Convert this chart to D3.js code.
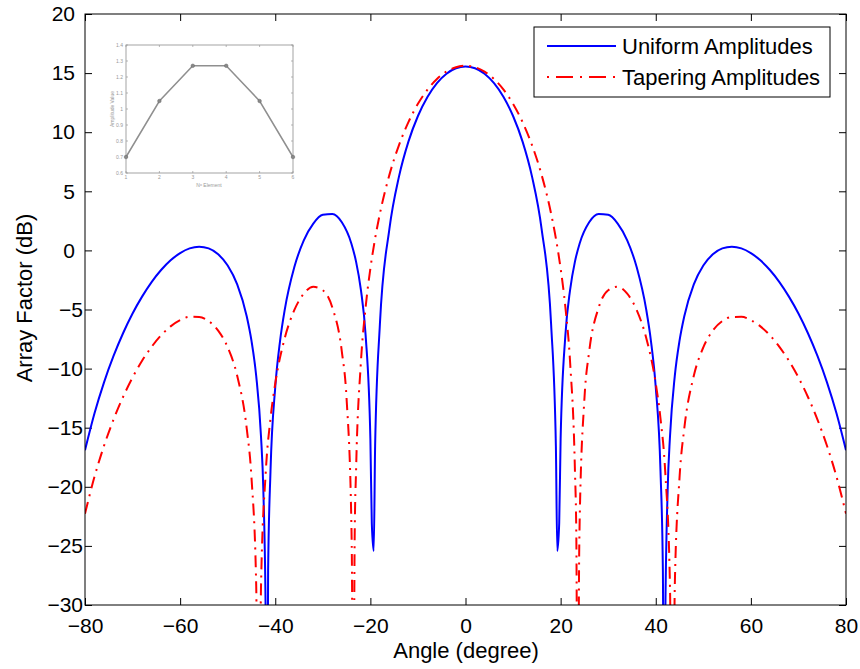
<!DOCTYPE html>
<html>
<head>
<meta charset="utf-8">
<script src="https://cdn.jsdelivr.net/npm/d3@7"></script>
<style>
body{margin:0;background:#fff;}
svg{display:block;}
text{font-family:"Liberation Sans",Arial,Helvetica,sans-serif;}
</style>
</head>
<body>
<svg id="chart" width="860" height="669"></svg>
<script>
// ---------------- DATA ----------------
const uniformAngles = [-80,-78,-76,-74,-72,-70,-68,-66,-64,-62,-60,-58,-56,-54,-52,-50,-48,-46,-45,-44,-43,-42.5,-42,-41.8,-41.5,-41,-40,-39,-38,-36,-34,-32,-30,-28,-26,-24,-23,-22,-21,-20,-19.7,-19.3,-19,-18,-16,-14,-12,-10,-8,-6,-4,-2,
  0,2,4,6,8,10,12,14,16,18,19,19.3,19.7,20,21,22,23,24,26,28,30,32,34,36,38,39,40,41,41.5,41.8,42,42.5,43,44,45,46,48,50,52,54,56,58,60,62,64,66,68,70,72,74,76,78,80];
const uniformDB = [-16.91,-13.78,-11.16,-8.93,-7.01,-5.34,-3.91,-2.68,-1.66,-0.84,-0.23,0.17,0.31,0.17,-0.33,-1.28,-2.88,-5.57,-7.64,-10.64,-15.70,-20.33,-31.45,-56.70,-27.10,-18.68,-11.58,-7.69,-5.01,-1.43,0.85,2.27,3.01,3.08,2.38,0.59,-0.97,-3.31,-7.17,-15.93,-23.08,-25.43,-16.51,-6.25,1.82,6.22,9.20,11.37,12.98,14.15,14.95,15.41,
  15.56,15.41,14.95,14.15,12.98,11.37,9.20,6.22,1.82,-6.25,-16.51,-25.43,-23.08,-15.93,-7.17,-3.31,-0.97,0.59,2.38,3.08,3.01,2.27,0.85,-1.43,-5.01,-7.69,-11.58,-18.68,-27.10,-56.70,-31.45,-20.33,-15.70,-10.64,-7.64,-5.57,-2.88,-1.28,-0.33,0.17,0.31,0.17,-0.23,-0.84,-1.66,-2.68,-3.91,-5.34,-7.01,-8.93,-11.16,-13.78,-16.91];

const taperAngles = [-80,-78,-76,-74,-72,-70,-68,-66,-64,-62,-60,-58,-56,-54,-52,-50,-48,-46,-45,-44,-43.5,-43,-42,-41,-40,-38,-36,-34,-32,-30,-28,-26,-25,-24,-23.9,-23.6,-23.3,-23,-22,-21,-20,-19,-18,-16,-14,-12,-10,-8,-6,-4,-2,
  0,2,4,6,8,10,12,14,16,18,19,20,21,22,23,23.3,23.6,23.9,24,25,26,28,30,32,34,36,38,40,41,42,43,43.5,44,45,46,48,50,52,54,56,58,60,62,64,66,68,70,72,74,76,78,80];
const taperDB = [-22.27,-19.14,-16.53,-14.31,-12.40,-10.75,-9.34,-8.16,-7.18,-6.43,-5.90,-5.62,-5.63,-5.98,-6.78,-8.20,-10.61,-15.06,-19.22,-28.43,-55.0,-28.57,-18.78,-14.23,-11.26,-7.41,-5.06,-3.66,-3.08,-3.37,-4.83,-8.56,-12.57,-22.97,-25.7,-46.0,-24.2,-18.49,-9.51,-4.81,-1.53,1.02,3.10,6.39,8.89,10.85,12.40,13.60,14.50,15.13,15.50,
  15.62,15.50,15.13,14.50,13.60,12.40,10.85,8.89,6.39,3.10,1.02,-1.53,-4.81,-9.51,-18.49,-24.2,-46.0,-25.7,-22.97,-12.57,-8.56,-4.83,-3.37,-3.08,-3.66,-5.06,-7.41,-11.26,-14.23,-18.78,-28.57,-55.0,-28.43,-19.22,-15.06,-10.61,-8.20,-6.78,-5.98,-5.63,-5.62,-5.90,-6.43,-7.18,-8.16,-9.34,-10.75,-12.40,-14.31,-16.53,-19.14,-22.27];

const xTicks = [-80,-60,-40,-20,0,20,40,60,80];
const yTicks = [-30,-25,-20,-15,-10,-5,0,5,10,15,20];
const seriesNames = ["Uniform Amplitudes","Tapering Amplitudes"];

const insetElements = [1,2,3,4,5,6];
const insetAmps = [0.7,1.05,1.27,1.27,1.05,0.7];
const insetYTicks = [0.6,0.7,0.8,0.9,1.0,1.1,1.2,1.3,1.4];
const insetXTicks = [1,2,3,4,5,6];

// ---------------- CHART ----------------
const svg = d3.select("#chart");
const L = 85, R = 846, T = 14, B = 605;
const x = d3.scaleLinear().domain([-80,80]).range([L,R]);
const y = d3.scaleLinear().domain([-30,20]).range([B,T]);

svg.append("rect").attr("width",860).attr("height",669).attr("fill","#fff");

svg.append("defs").append("clipPath").attr("id","plotclip")
  .append("rect").attr("x",L).attr("y",T).attr("width",R-L).attr("height",B-T);

const fmt = d3.format("d");

// axes with inward ticks
const gB = svg.append("g").attr("transform",`translate(0,${B})`)
  .call(d3.axisBottom(x).tickValues(xTicks).tickSizeInner(-7).tickSizeOuter(0).tickPadding(13).tickFormat(fmt));
const gT = svg.append("g").attr("transform",`translate(0,${T})`)
  .call(d3.axisTop(x).tickValues(xTicks).tickSizeInner(-7).tickSizeOuter(0).tickFormat(""));
const gL = svg.append("g").attr("transform",`translate(${L},0)`)
  .call(d3.axisLeft(y).tickValues(yTicks).tickSizeInner(-7).tickSizeOuter(0).tickPadding(10).tickFormat(fmt));
const gR = svg.append("g").attr("transform",`translate(${R},0)`)
  .call(d3.axisRight(y).tickValues(yTicks).tickSizeInner(-7).tickSizeOuter(0).tickFormat(""));

[gB,gT,gL,gR].forEach(g=>{
  g.select(".domain").remove();
  g.selectAll(".tick line").attr("stroke","#000").attr("stroke-width",1);
  g.selectAll("text").attr("font-size",21).attr("fill","#000")
   .attr("font-family",'"Liberation Sans",Arial,sans-serif');
});
gL.selectAll(".tick text").attr("x", d => d < 0 ? -2 : -10);

// curves
const line = d3.line().x(d=>x(d[0])).y(d=>y(d[1])).curve(d3.curveMonotoneX);
const uData = uniformAngles.map((a,i)=>[a,uniformDB[i]]);
const tData = taperAngles.map((a,i)=>[a,taperDB[i]]);
const plot = svg.append("g").attr("clip-path","url(#plotclip)");
plot.append("path").datum(uData).attr("d",line)
  .attr("fill","none").attr("stroke","#0000ff").attr("stroke-width",2).attr("stroke-linejoin","round");
plot.append("path").datum(tData).attr("d",line)
  .attr("fill","none").attr("stroke","#ff0000").attr("stroke-width",2)
  .attr("stroke-dasharray","12,6,2,6");

// frame
svg.append("rect").attr("x",L).attr("y",T).attr("width",R-L).attr("height",B-T)
  .attr("fill","none").attr("stroke","#000").attr("stroke-width",1);

// axis labels
svg.append("text").attr("x",466).attr("y",658).attr("text-anchor","middle")
  .attr("font-size",22).attr("fill","#000").text("Angle (degree)");
svg.append("text").attr("transform","translate(32,298) rotate(-90)").attr("text-anchor","middle")
  .attr("font-size",22).attr("fill","#000").text("Array Factor (dB)");

// legend
const lg = svg.append("g");
lg.append("rect").attr("x",534).attr("y",27).attr("width",296).attr("height",70)
  .attr("fill","#fff").attr("stroke","#000").attr("stroke-width",1);
const legendRows = [
  {name:seriesNames[0], color:"#0000ff", dash:null, yy:46},
  {name:seriesNames[1], color:"#ff0000", dash:"2,7,17,7", yy:77}
];
legendRows.forEach(r=>{
  const l = lg.append("line").attr("x1",547).attr("x2",616).attr("y1",r.yy).attr("y2",r.yy)
    .attr("stroke",r.color).attr("stroke-width",2);
  if(r.dash) l.attr("stroke-dasharray",r.dash);
  lg.append("text").attr("x",622).attr("y",r.yy+8).attr("font-size",22).attr("fill","#000").text(r.name);
});

// inset
const ix = d3.scaleLinear().domain([1,6]).range([126,293]);
const iy = d3.scaleLinear().domain([0.6,1.4]).range([173,45]);
const ig = svg.append("g");
const gray = "#9a9a9a";
ig.append("rect").attr("x",126).attr("y",45).attr("width",167).attr("height",128)
  .attr("fill","#fff").attr("stroke",gray).attr("stroke-width",0.9);
insetXTicks.forEach(t=>{
  ig.append("line").attr("x1",ix(t)).attr("x2",ix(t)).attr("y1",173).attr("y2",171).attr("stroke",gray).attr("stroke-width",0.7);
  ig.append("line").attr("x1",ix(t)).attr("x2",ix(t)).attr("y1",45).attr("y2",47).attr("stroke",gray).attr("stroke-width",0.7);
  ig.append("text").attr("x",ix(t)).attr("y",179).attr("text-anchor","middle").attr("font-size",5).attr("fill","#999").text(t);
});
insetYTicks.forEach(t=>{
  ig.append("line").attr("x1",126).attr("x2",128).attr("y1",iy(t)).attr("y2",iy(t)).attr("stroke",gray).attr("stroke-width",0.7);
  ig.append("line").attr("x1",293).attr("x2",291).attr("y1",iy(t)).attr("y2",iy(t)).attr("stroke",gray).attr("stroke-width",0.7);
  ig.append("text").attr("x",123).attr("y",iy(t)+1.7).attr("text-anchor","end").attr("font-size",5).attr("fill","#999")
    .text(d3.format("")(+t.toFixed(1)));
});
ig.append("path").datum(insetElements.map((e,i)=>[e,insetAmps[i]]))
  .attr("d",d3.line().x(d=>ix(d[0])).y(d=>iy(d[1])))
  .attr("fill","none").attr("stroke","#8f8f8f").attr("stroke-width",1.5);
ig.selectAll("circle.m").data(insetElements).enter().append("circle")
  .attr("cx",(d)=>ix(d)).attr("cy",(d,i)=>iy(insetAmps[i])).attr("r",1.8)
  .attr("fill","#888").attr("stroke","#666").attr("stroke-width",0.5);
const xl = ig.append("text").attr("x",209).attr("y",187).attr("text-anchor","middle").attr("font-size",5).attr("fill","#999");
xl.append("tspan").text("N");
xl.append("tspan").attr("dy",-1.5).attr("font-size",3.5).text("o");
xl.append("tspan").attr("dy",1.5).text(" Element");
ig.append("text").attr("transform","translate(114,109) rotate(-90)").attr("text-anchor","middle")
  .attr("font-size",5).attr("fill","#999").text("Amplitude Value");
</script>
</body>
</html>
